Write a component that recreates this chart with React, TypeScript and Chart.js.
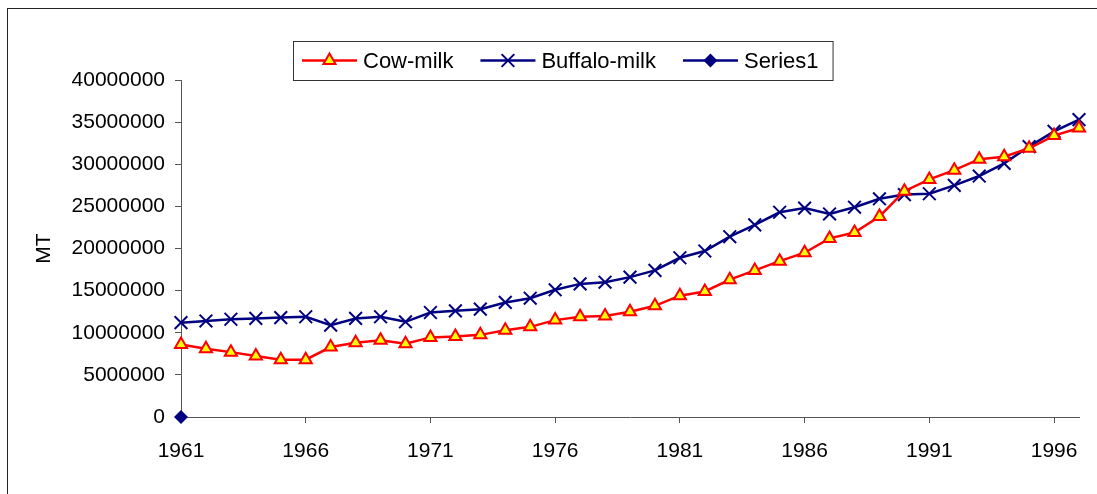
import React, { useEffect, useRef } from "react";
import { Chart, registerables } from "chart.js";

Chart.register(...registerables);

const years = [
  "1961", "1962", "1963", "1964", "1965", "1966", "1967", "1968", "1969", "1970",
  "1971", "1972", "1973", "1974", "1975", "1976", "1977", "1978", "1979", "1980",
  "1981", "1982", "1983", "1984", "1985", "1986", "1987", "1988", "1989", "1990",
  "1991", "1992", "1993", "1994", "1995", "1996", "1997",
];

const cowMilk = [
  8600000, 8100000, 7700000, 7250000, 6800000, 6800000, 8300000, 8800000, 9100000, 8700000,
  9450000, 9550000, 9750000, 10300000, 10700000, 11500000, 11900000, 12000000, 12500000, 13200000,
  14400000, 14900000, 16300000, 17400000, 18500000, 19500000, 21200000, 21900000, 23800000, 26800000,
  28200000, 29300000, 30600000, 30900000, 31900000, 33400000, 34300000,
];

const buffaloMilk = [
  11200000, 11400000, 11600000, 11700000, 11800000, 11900000, 10900000, 11700000, 11900000, 11300000,
  12400000, 12600000, 12800000, 13600000, 14100000, 15100000, 15800000, 16000000, 16600000, 17400000,
  18900000, 19700000, 21400000, 22800000, 24300000, 24800000, 24100000, 24900000, 25900000, 26400000,
  26500000, 27500000, 28600000, 30100000, 32100000, 33900000, 35300000,
];

const series1 = [0];

const yTicks = [0, 5000000, 10000000, 15000000, 20000000, 25000000, 30000000, 35000000, 40000000];

const FONT = "'Liberation Sans', Arial, sans-serif";
const RED = "#FF0000";
const YELLOW = "#FFFF00";
const NAVY = "#000080";
const AXIS = "#555555";

function drawMarker(ctx: CanvasRenderingContext2D, style: string, x: number, y: number) {
  ctx.save();
  if (style === "triangle") {
    const r = 7;
    ctx.beginPath();
    ctx.moveTo(x, y - r);
    ctx.lineTo(x + 0.866 * r, y + 0.5 * r);
    ctx.lineTo(x - 0.866 * r, y + 0.5 * r);
    ctx.closePath();
    ctx.fillStyle = YELLOW;
    ctx.fill();
    ctx.lineWidth = 2;
    ctx.strokeStyle = RED;
    ctx.stroke();
  } else if (style === "crossRot") {
    const o = 9 * Math.SQRT1_2;
    ctx.beginPath();
    ctx.moveTo(x - o, y - o);
    ctx.lineTo(x + o, y + o);
    ctx.moveTo(x - o, y + o);
    ctx.lineTo(x + o, y - o);
    ctx.lineWidth = 2;
    ctx.strokeStyle = NAVY;
    ctx.stroke();
  } else {
    const r = 7;
    ctx.beginPath();
    ctx.moveTo(x, y - r);
    ctx.lineTo(x + r, y);
    ctx.lineTo(x, y + r);
    ctx.lineTo(x - r, y);
    ctx.closePath();
    ctx.fillStyle = NAVY;
    ctx.fill();
  }
  ctx.restore();
}

const framePlugin = {
  id: "frame",
  beforeDraw(chart: any) {
    const ctx = chart.ctx as CanvasRenderingContext2D;
    ctx.save();
    ctx.fillStyle = "#ffffff";
    ctx.fillRect(0, 0, chart.width, chart.height);
    ctx.strokeStyle = "#222222";
    ctx.lineWidth = 1;
    ctx.strokeRect(7.5, 8.5, 1200, 600);
    ctx.restore();
  },
};

const legendPlugin = {
  id: "excelLegend",
  afterDraw(chart: any) {
    const ctx = chart.ctx as CanvasRenderingContext2D;
    const boxLeft = 293;
    const boxTop = 41;
    const boxBottom = 80;
    const cy = (boxTop + boxBottom) / 2;
    const lineLen = 55;
    ctx.save();
    ctx.font = `22px ${FONT}`;
    let x = boxLeft + 9;
    const items: any[] = [];
    chart.data.datasets.forEach((ds: any) => {
      const w = ctx.measureText(ds.label).width;
      items.push({ ds, x, w });
      x = x + lineLen + 6 + w + 27;
    });
    const last = items[items.length - 1];
    const boxRight = last.x + lineLen + 6 + last.w + 14;
    ctx.fillStyle = "#ffffff";
    ctx.fillRect(boxLeft, boxTop, boxRight - boxLeft, boxBottom - boxTop);
    ctx.strokeStyle = "#333333";
    ctx.lineWidth = 1;
    ctx.strokeRect(boxLeft + 0.5, boxTop + 0.5, boxRight - boxLeft, boxBottom - boxTop);
    items.forEach((it) => {
      ctx.beginPath();
      ctx.moveTo(it.x, cy);
      ctx.lineTo(it.x + lineLen, cy);
      ctx.strokeStyle = it.ds.borderColor;
      ctx.lineWidth = 2.5;
      ctx.stroke();
      drawMarker(ctx, it.ds.pointStyle, it.x + lineLen / 2, cy);
      ctx.fillStyle = "#000000";
      ctx.textAlign = "left";
      ctx.textBaseline = "middle";
      ctx.fillText(it.ds.label, it.x + lineLen + 6, cy + 1);
    });
    ctx.restore();
  },
};

export default function App() {
  const canvasRef = useRef<HTMLCanvasElement | null>(null);

  useEffect(() => {
    if (!canvasRef.current) return;
    const chart = new Chart(canvasRef.current, {
      type: "line",
      data: {
        labels: years,
        datasets: [
          {
            label: "Cow-milk",
            data: cowMilk,
            borderColor: RED,
            borderWidth: 2.5,
            pointStyle: "triangle",
            pointRadius: 7,
            pointHoverRadius: 7,
            pointBackgroundColor: YELLOW,
            pointBorderColor: RED,
            pointBorderWidth: 2,
            tension: 0,
            clip: false as any,
          },
          {
            label: "Buffalo-milk",
            data: buffaloMilk,
            borderColor: NAVY,
            borderWidth: 2.5,
            pointStyle: "crossRot",
            pointRadius: 9,
            pointHoverRadius: 9,
            pointBackgroundColor: NAVY,
            pointBorderColor: NAVY,
            pointBorderWidth: 2,
            tension: 0,
            clip: false as any,
          },
          {
            label: "Series1",
            data: series1,
            borderColor: NAVY,
            borderWidth: 2.5,
            pointStyle: "rectRot",
            pointRadius: 7,
            pointHoverRadius: 7,
            pointBackgroundColor: NAVY,
            pointBorderColor: NAVY,
            pointBorderWidth: 0,
            tension: 0,
            clip: false as any,
          },
        ],
      },
      options: {
        animation: false,
        responsive: false,
        devicePixelRatio: 1,
        layout: { padding: { left: 0, right: 18, top: 80, bottom: 0 } },
        plugins: {
          legend: { display: false },
          tooltip: { enabled: false },
        },
        scales: {
          x: {
            type: "category",
            offset: false,
            border: { display: true, color: AXIS, width: 1 },
            grid: {
              display: true,
              drawOnChartArea: false,
              drawTicks: true,
              tickLength: 6,
              tickColor: (c: any) => (c.index % 5 === 0 ? AXIS : "rgba(0,0,0,0)"),
            },
            ticks: {
              autoSkip: false,
              maxRotation: 0,
              minRotation: 0,
              padding: 16,
              color: "#000000",
              font: { family: FONT, size: 21 },
              callback: (_v: any, i: number) => (i % 5 === 0 ? years[i] : ""),
            },
            afterFit: (scale: any) => {
              scale.height = 77;
            },
          },
          y: {
            min: 0,
            max: 40000000,
            border: { display: true, color: AXIS, width: 1 },
            grid: {
              display: true,
              drawOnChartArea: false,
              drawTicks: true,
              tickLength: 6,
              color: AXIS,
              tickColor: AXIS,
            },
            afterBuildTicks: (scale: any) => {
              scale.ticks = yTicks.map((v) => ({ value: v }));
            },
            ticks: {
              padding: 10,
              color: "#000000",
              font: { family: FONT, size: 21 },
              callback: (v: any) => String(v),
            },
            title: {
              display: true,
              text: "MT",
              color: "#000000",
              font: { family: FONT, size: 21 },
              padding: { top: 32, bottom: 0 },
            },
            afterFit: (scale: any) => {
              scale.width = 181;
            },
          },
        },
      },
      plugins: [framePlugin, legendPlugin],
    });
    return () => chart.destroy();
  }, []);

  return (
    <div style={{ position: "fixed", left: 0, top: 0, width: 1097, height: 494 }}>
      <canvas ref={canvasRef} width={1097} height={494} style={{ display: "block" }} />
    </div>
  );
}
